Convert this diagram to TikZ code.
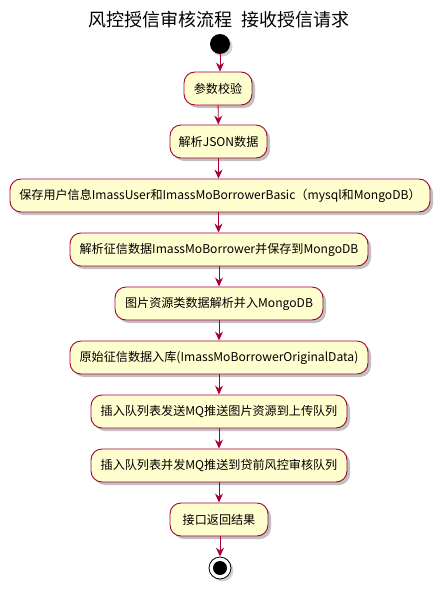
\documentclass[tikz,border=0pt]{standalone}
\usepackage{fontspec}
\setmainfont{Noto Sans CJK SC}
\usetikzlibrary{arrows.meta,shadows}
\definecolor{flowred}{HTML}{A80036}
\definecolor{actfill}{HTML}{FEFECE}
\begin{document}
\begin{tikzpicture}[x=1pt,y=-1pt,
  act/.style={draw=flowred, fill=actfill, line width=0.9pt, rounded corners=11pt,
    minimum height=33pt, inner sep=0pt, font=\fontsize{12.1}{14}\selectfont,
    drop shadow={shadow xshift=3pt, shadow yshift=-3pt, opacity=0.35, fill=black!70}},
  flow/.style={draw=flowred, line width=0.9pt,
    -{Stealth[length=9pt,width=8pt,inset=3pt]}}]
\useasboundingbox (0,0) rectangle (439,589);
\node[font=\fontsize{18}{20}\selectfont] (title) at (219,19.5) {风控授信审核流程\ \ 接收授信请求};
\node[circle, fill=black, minimum size=20pt, inner sep=0pt,
  drop shadow={shadow xshift=2.5pt, shadow yshift=-2.5pt, opacity=0.35}] (start) at (220,44) {};
\node[act, minimum width=68pt] (a1) at (218,88.5) {参数校验};
\node[act, minimum width=97pt] (a2) at (218.5,141.5) {解析JSON数据};
\node[act, minimum width=420pt] (a3) at (220,195.5) {保存用户信息ImassUser和ImassMoBorrowerBasic（mysql和MongoDB）};
\node[act, minimum width=298pt] (a4) at (219,249.5) {解析征信数据ImassMoBorrower并保存到MongoDB};
\node[act, minimum width=208pt] (a5) at (219,303.5) {图片资源类数据解析并入MongoDB};
\node[act, minimum width=298pt] (a6) at (219,357.5) {原始征信数据入库(ImassMoBorrowerOriginalData)};
\node[act, minimum width=256pt] (a7) at (219,411.5) {插入队列表发送MQ推送图片资源到上传队列};
\node[act, minimum width=256pt] (a8) at (219,465.5) {插入队列表并发MQ推送到贷前风控审核队列};
\node[act, minimum width=98pt] (a9) at (219,519.5) {接口返回结果};
\node[circle, draw=black, line width=0.8pt, fill=white, minimum size=22pt, inner sep=0pt,
  drop shadow={shadow xshift=2.5pt, shadow yshift=-2.5pt, opacity=0.35}] (stop) at (220,568) {};
\node[circle, fill=black, minimum size=14pt, inner sep=0pt] (stopdot) at (stop) {};
\draw[flow] (start) -- (start |- a1.north);
\draw[flow] (a1) -- (a2);
\draw[flow] (a2) -- (a2 |- a3.north);
\draw[flow] (a3.south -| a2) -- (a2 |- a4.north);
\draw[flow] (a4) -- (a5);
\draw[flow] (a5) -- (a6);
\draw[flow] (a6) -- (a7);
\draw[flow] (a7) -- (a8);
\draw[flow] (a8) -- (a9);
\draw[flow] (a9.south -| stop) -- (stop);
\end{tikzpicture}
\end{document}
